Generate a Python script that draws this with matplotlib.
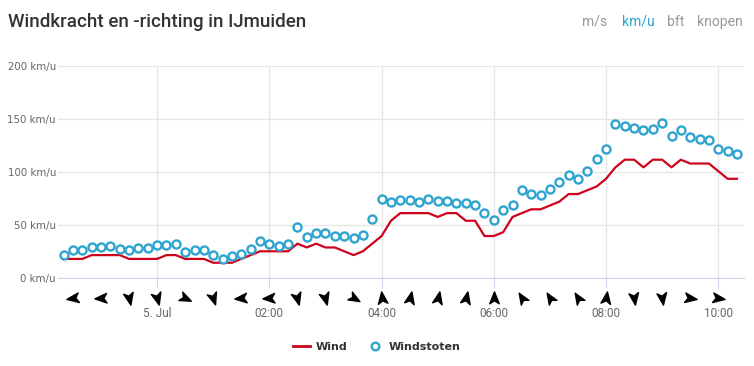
import numpy as np
import pandas as pd
import matplotlib
matplotlib.use('Agg')
import matplotlib.pyplot as plt
import matplotlib.dates as mdates
from matplotlib.path import Path
from matplotlib.lines import Line2D

# ---------------------------------------------------------------
# data (km/u), 10 minute steps from 4 jul 22:20 to 5 jul 10:20
# ---------------------------------------------------------------
times = pd.date_range('2019-07-04 22:20', periods=73, freq='10min')

wind = [18, 18, 18, 21.6, 21.6, 21.6, 21.6, 18, 18, 18,
        18, 21.6, 21.6, 18, 18, 18, 14.4, 14.4, 14.4, 18,
        21.6, 25.2, 25.2, 25.2, 25.2, 32.4, 28.8, 32.4, 28.8, 28.8,
        25.2, 21.6, 25.2, 32.4, 39.6, 54, 61.2, 61.2, 61.2, 61.2,
        57.6, 61.2, 61.2, 54, 54, 39.6, 39.6, 43.2, 57.6, 61.2,
        64.8, 64.8, 68.4, 72, 79.2, 79.2, 82.8, 86.4, 93.6, 104.4,
        111.6, 111.6, 104.4, 111.6, 111.6, 104.4, 111.6, 108, 108, 108,
        100.8, 93.6, 93.6]

windstoten = [21.6, 26.7, 26.7, 29.2, 29, 29.8, 27.4, 26.7, 28.3, 28.3,
              30.8, 30.8, 31.7, 24.8, 26.7, 26.4, 21.7, 18.2, 20.4, 22.9,
              27.6, 34.5, 32.4, 30.5, 32.4, 47.8, 39, 42.4, 42, 40,
              40, 37.4, 40.3, 56, 74.8, 72, 73.6, 74, 71.7, 74.2,
              72.3, 72.3, 71, 70.4, 69.2, 61.3, 54.4, 63.8, 69.2, 82.7,
              79.2, 78, 84, 90.2, 97.5, 93.4, 100.6, 112.2, 122, 145.3,
              143.7, 141.5, 139.6, 141, 146.2, 133.6, 139.9, 133.3, 131.1, 130.5,
              122, 120, 116.6]

# direction arrows every half hour (degrees, 0 = pointing right, 90 = up)
arrow_times = pd.date_range('2019-07-04 22:30', periods=24, freq='30min')
arrow_dirs = [188, 183, -78, -75, -25, -72, 185, 183, -75, -75,
              -30, 97, 78, 78, 78, 90, 122, 122, 122, 82,
              -82, -82, -8, -8]

tick_times = pd.date_range('2019-07-05 00:00', periods=6, freq='2h')
tick_labels = ['5. Jul', '02:00', '04:00', '06:00', '08:00', '10:00']
yticks = [0, 50, 100, 150, 200]
units = ['m/s', 'km/u', 'bft', 'knopen']

# ---------------------------------------------------------------
# config
# ---------------------------------------------------------------
red = '#d0021b'
blue = '#2fa4cf'
grid_c = '#e6e6e6'
axis_c = '#ccd6eb'
txt_c = '#333333'


def arrow_path(angle):
  verts = np.array([[1.0, 0.0], [-0.8, 0.72], [-0.35, 0.0], [-0.8, -0.72], [1.0, 0.0]])
  a = np.deg2rad(angle)
  rot = np.array([[np.cos(a), -np.sin(a)], [np.sin(a), np.cos(a)]])
  v = verts @ rot.T
  codes = [Path.MOVETO, Path.LINETO, Path.LINETO, Path.LINETO, Path.CLOSEPOLY]
  return Path(v, codes)


def main():
  fig = plt.figure(figsize=(7.54, 3.66), dpi=100)
  ax = fig.add_axes([58/754, 88/366, 686/754, 212/366])

  ax.plot(times, wind, '-', color=red, linewidth=1.6, zorder=3)
  ax.plot(times, windstoten, 'o', linestyle='none', markerfacecolor='white',
          markeredgecolor=blue, markeredgewidth=1.7, markersize=5.8, zorder=4)

  # arrows below the axis
  trans = ax.get_xaxis_transform()
  for t, d in zip(arrow_times, arrow_dirs):
    ax.plot([mdates.date2num(t)], [-0.094], marker=arrow_path(d), markersize=9.5,
            color='black', linestyle='none', transform=trans, clip_on=False)

  ax.set_xlim(pd.Timestamp('2019-07-04 22:14'), pd.Timestamp('2019-07-05 10:27:30'))
  ax.set_ylim(0, 200)

  ax.set_yticks(yticks)
  ax.set_yticklabels(['%d km/u' % v for v in yticks], fontsize=7.4, color='#666666',
                     family='DejaVu Sans')
  ax.set_xticks(tick_times)
  ax.set_xticklabels(tick_labels, fontsize=8.5, color='#666666', family='Roboto')

  ax.grid(True, axis='y', color=grid_c, linewidth=1)
  ax.grid(True, axis='x', color=grid_c, linewidth=1)
  ax.set_axisbelow(True)
  for s in ['top', 'right', 'left']:
    ax.spines[s].set_visible(False)
  ax.spines['bottom'].set_color(axis_c)
  ax.tick_params(axis='y', length=0, pad=1.5)
  ax.tick_params(axis='x', length=7.2, color=axis_c, pad=13.5)

  fig.text(8/754, 1-22/366, 'Windkracht en -richting in IJmuiden', fontsize=13.5,
           family='Roboto', weight='medium', color=txt_c, va='center', ha='left')

  ux = [595, 638, 676, 720]
  for x, u in zip(ux, units):
    c = blue if u == 'km/u' else '#999999'
    fig.text(x/754, 1-22/366, u, fontsize=10, family='Roboto', color=c,
             ha='center', va='center')

  handles = [Line2D([], [], color=red, linewidth=2),
             Line2D([], [], marker='o', linestyle='none', markerfacecolor='white',
                    markeredgecolor=blue, markeredgewidth=1.7, markersize=5.5)]
  leg = fig.legend(handles, ['Wind', 'Windstoten'], loc='center', ncol=2, frameon=False,
                   bbox_to_anchor=(0.5, 1-347/366), handlelength=1.5, columnspacing=1.8,
                   handletextpad=0.5, prop={'weight': 'bold', 'size': 8})
  for t in leg.get_texts():
    t.set_color(txt_c)

  fig.savefig('out.png', dpi=100)


if __name__ == "__main__":
  main()
